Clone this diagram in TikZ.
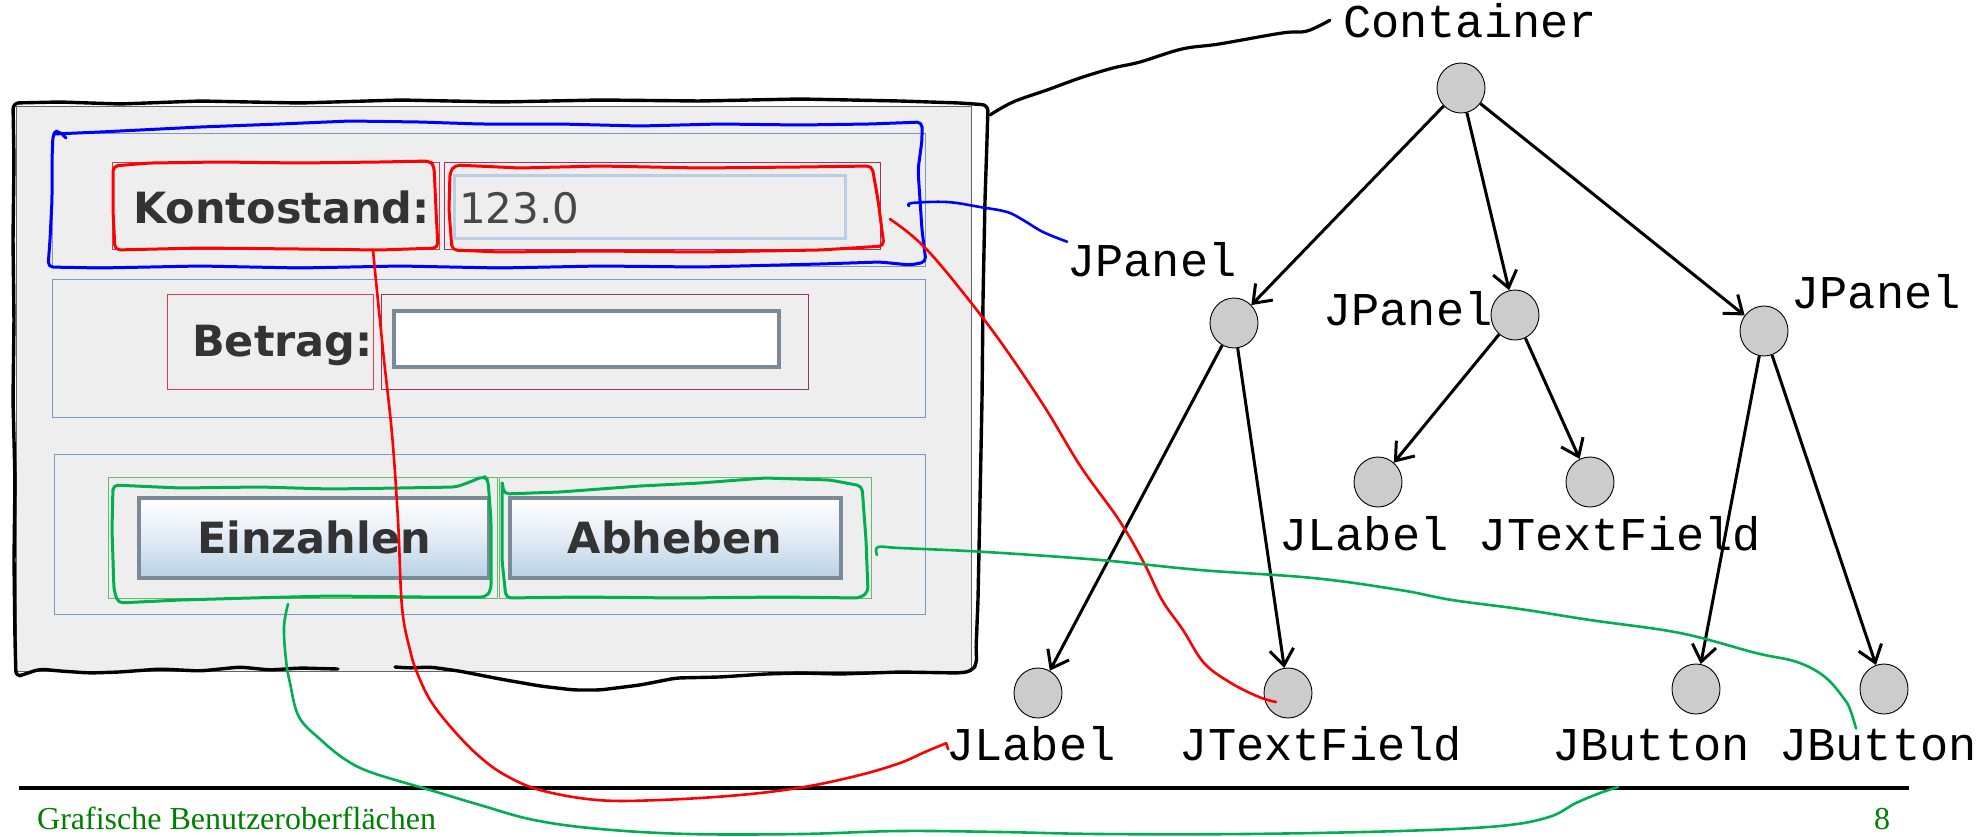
\documentclass[tikz,border=0pt]{standalone}
\usepackage{fontspec}
\setmainfont{Liberation Serif}
\newfontfamily\monof{Liberation Mono}
\newfontfamily\guif{DejaVu Sans}
\usetikzlibrary{arrows.meta,shapes.geometric}
\definecolor{guigray}{HTML}{EEEEEE}
\definecolor{winbord}{HTML}{666666}
\definecolor{panelb}{HTML}{7A9AC0}
\definecolor{labred}{HTML}{D04050}
\definecolor{fldpur}{HTML}{993366}
\definecolor{fldblue}{HTML}{B8CFE5}
\definecolor{btnbord}{HTML}{7A8A99}
\definecolor{cmpgreen}{HTML}{66BB66}
\definecolor{txtgray}{HTML}{333333}
\definecolor{penred}{HTML}{FF0000}
\definecolor{penblue}{HTML}{0000FF}
\definecolor{pengreen}{HTML}{00B050}
\definecolor{footgreen}{HTML}{008000}
\definecolor{nodegray}{HTML}{CCCCCC}
\begin{document}
\begin{tikzpicture}[x=1pt,y=-1pt,
  tnode/.style={ellipse,draw=black,line width=0.9pt,fill=nodegray,minimum width=48pt,minimum height=50pt,inner sep=0pt},
  tlabel/.style={font=\monof\fontsize{47}{47}\selectfont,inner sep=0pt,anchor=base},
  treearrow/.style={line width=3pt,-{Straight Barb[length=16pt,width=24pt]}},
  guitext/.style={font=\guif\bfseries\fontsize{43}{43}\selectfont,text=txtgray,inner sep=0pt},
  pen/.style={line width=2.6pt,line cap=round,line join=round},
  sketch/.style={pen,line width=3pt,rounded corners=5pt},
]
\useasboundingbox (0,0) rectangle (1982,836);
% ---------- GUI window ----------
\draw[winbord,fill=guigray,line width=0.8pt] (16,106) rectangle (971,671);
% panel 1
\draw[panelb,line width=1pt] (52,133) rectangle (925,266);
\draw[labred,line width=0.9pt] (112,162) rectangle (439,249);
\draw[fldpur,line width=0.9pt] (444,162) rectangle (880,249);
\draw[fldblue,line width=3pt,fill=guigray] (454,175) rectangle (845,238);
\node[guitext,anchor=base west] (kt) at (133,223) {Kontostand:};
\node[font=\guif\fontsize{42}{42}\selectfont,text=txtgray!90,inner sep=0pt,anchor=base west] (val) at (459,223) {123.0};
% panel 2
\draw[panelb,line width=1pt] (52,279) rectangle (925,417);
\draw[labred,line width=0.9pt] (167,294) rectangle (373,389);
\draw[fldpur,line width=0.9pt] (381,294) rectangle (808,389);
\draw[btnbord,line width=4pt,fill=white] (394,311) rectangle (779,367);
\node[guitext,anchor=base west] (bt) at (192,356) {Betrag:};
% panel 3
\draw[panelb,line width=1pt] (54,454) rectangle (925,614);
\draw[cmpgreen,line width=0.9pt] (108,477) rectangle (497,598);
\draw[cmpgreen,line width=0.9pt] (499,477) rectangle (871,598);
\draw[btnbord,line width=4pt,top color=white,bottom color=fldblue,middle color=white!60!fldblue] (139,498) rectangle (489,578);
\draw[btnbord,line width=4pt,top color=white,bottom color=fldblue,middle color=white!60!fldblue] (510,498) rectangle (841,578);
\node[guitext,anchor=base] (ein) at (314,553) {Einzahlen};
\node[guitext,anchor=base] (abh) at (675,553) {Abheben};
% ---------- hand-drawn window border ----------
\draw[pen,line width=3.4pt,rounded corners=6pt]
  (338,669) -- (300,668) -- (270,670) -- (240,667) -- (200,671) -- (160,669) -- (120,672) -- (90,673) -- (60,671) -- (40,669) -- (25,674) -- (16,677)
  -- (15,640) -- (14,560) -- (15,480) -- (13,400) -- (14,320) -- (13,240) -- (14,160) -- (13,103)
  -- (60,102) -- (120,104) -- (200,101) -- (300,103) -- (400,100) -- (500,102) -- (600,100) -- (700,101) -- (800,99) -- (900,101) -- (960,103) -- (988,105)
  -- (987,140) -- (985,200) -- (983,300) -- (982,400) -- (980,500) -- (978,600) -- (976,650) -- (977,663) -- (972,671) -- (960,673)
  -- (900,672) -- (840,674) -- (800,673) -- (765,674) -- (720,677) -- (676,678) -- (640,685) -- (600,690) -- (574,690) -- (540,686) -- (500,679) -- (459,671) -- (430,667) -- (410,668) -- (395,667);
% ---------- sketch boxes ----------
\draw[sketch,penblue] (54,134) -- (100,132) -- (200,127) -- (280,124) -- (350,121) -- (420,122) -- (480,124) -- (560,124) -- (640,126) -- (720,124) -- (800,125) -- (870,124) -- (922,122)
  -- (922,140) -- (918,170) -- (920,200) -- (922,230) -- (926,262) -- (910,265) -- (880,262) -- (820,264) -- (700,267) -- (600,266) -- (500,268) -- (400,266) -- (300,268) -- (200,266) -- (100,268) -- (48,267)
  -- (50,240) -- (52,200) -- (52,160) -- (53,134) -- (58,130) -- (66,138);
\draw[sketch,penred] (113,166) -- (150,163) -- (220,162) -- (300,163) -- (380,162) -- (430,161) -- (434,166) -- (436,210) -- (438,248) -- (380,250) -- (300,249) -- (200,248) -- (115,250) -- (113,210) -- cycle;
\draw[sketch,penred] (450,172) -- (455,165) -- (520,168) -- (600,166) -- (700,168) -- (800,167) -- (872,166) -- (878,200) -- (884,246) -- (820,250) -- (700,252) -- (600,251) -- (500,252) -- (452,250) -- (449,210) -- cycle;
\draw[sketch,pengreen] (113,485) -- (180,488) -- (260,487) -- (330,489) -- (400,488) -- (456,487) -- (470,482) -- (484,476) -- (488,480) -- (491,520) -- (491,590) -- (486,597) -- (420,597) -- (330,596) -- (250,598) -- (180,600) -- (118,603) -- (114,590) -- (112,530) -- cycle;
\draw[sketch,pengreen] (502,480) -- (504,494) -- (560,492) -- (640,486) -- (700,483) -- (765,478) -- (830,480) -- (862,486) -- (866,540) -- (868,592) -- (860,598) -- (780,597) -- (680,598) -- (580,597) -- (506,598) -- (502,560) -- cycle;
% ---------- tree ----------
\node[tnode] (root) at (1461,88) {};
\node[tnode] (p1) at (1234,323) {};
\node[tnode] (p2) at (1515,315) {};
\node[tnode] (p3) at (1764,331) {};
\node[tnode] (l2) at (1378,482) {};
\node[tnode] (t2) at (1590,482) {};
\node[tnode] (l1) at (1038,693) {};
\node[tnode] (t1) at (1288,693) {};
\node[tnode] (b1) at (1696,689) {};
\node[tnode] (b2) at (1884,689) {};
\draw[treearrow] (root) -- (p1);
\draw[treearrow] (root) -- (p2);
\draw[treearrow] (root) -- (p3);
\draw[treearrow] (p1) -- (l1);
\draw[treearrow] (p1) -- (t1);
\draw[treearrow] (p2) -- (l2);
\draw[treearrow] (p2) -- (t2);
\draw[treearrow] (p3) -- (b1);
\draw[treearrow] (p3) -- (b2);
\node[tlabel] (contlbl) at (1470,37) {Container};
\node[tlabel] (p1lbl) at (1152,276) {JPanel};
\node[tlabel] (p2lbl) at (1408,325) {JPanel};
\node[tlabel] (p3lbl) at (1876,308) {JPanel};
\node[tlabel] (l2lbl) at (1364,550) {JLabel};
\node[tlabel] (t2lbl) at (1620,550) {JTextField};
\node[tlabel] (l1lbl) at (1031,760) {JLabel};
\node[tlabel] (t1lbl) at (1321,760) {JTextField};
\node[tlabel] (b1lbl) at (1651,760) {JButton};
\node[tlabel] (b2lbl) at (1878,760) {JButton};
% ---------- footer ----------
\coordinate (fl) at (19,788);
\coordinate (fr) at (1909,788);
\draw[line width=3.4pt] (fl) -- (fr);
\node[font=\fontsize{32}{32}\selectfont,text=footgreen,inner sep=0pt,anchor=base west] (foot) at (37,829) {Grafische Benutzeroberflächen};
\node[font=\fontsize{32}{32}\selectfont,text=footgreen,inner sep=0pt,anchor=base] (pg) at (1882,829) {8};
% ---------- annotation connectors ----------
\coordinate (winc) at (990,115);
\coordinate (bluestart) at (909,206);
\coordinate (klbot) at (373,250);
\coordinate (tfR) at (890,219);
\coordinate (abR) at (877,555);
\coordinate (einB) at (288,604);
\coordinate (t1end) at ([shift={(-12,9)}]t1.center);
\coordinate (g2end) at ([shift={(-33,27)}]b1lbl.base);
\draw[pen,black,line width=3.2pt] plot[smooth,tension=0.6] coordinates {(winc) (1013,102) (1047,90) (1080,78) (1113,68) (1140,62) (1182,49) (1219,44) (1282,33) (1307,31) ([xshift=-13pt]contlbl.west)};
\draw[pen,penblue] plot[smooth,tension=0.6] coordinates {(bluestart) (912,203) (947,202) (980,207) (1007,212) (1023,220) (1043,232) (p1lbl.north west)};
\draw[pen,penred] plot[smooth,tension=0.6] coordinates {(klbot) (376,281) (384,360) (392,434) (398,520) (402,607) (410,650) (418,675) (432,703) (456,733) (480,757) (505,775) (540,790) (597,800) (660,800) (740,795) (804,787) (860,775) (900,763) (925,752) (l1lbl.west)} -- ++(2,6);
\draw[pen,penred] plot[smooth,tension=0.6] coordinates {(tfR) (910,234) (930,253) (961,290) (1000,341) (1044,406) (1081,467) (1119,520) (1144,563) (1162,600) (1183,630) (1204,663) (1231,683) (1259,697) (t1end)};
\draw[pen,pengreen] plot[smooth,tension=0.6] coordinates {(abR) (878,547) (900,548) (986,552) (1100,560) (1200,570) (1313,578) (1400,590) (1452,600) (1520,609) (1590,620) (1680,633) (1756,653) (1797,662) (1825,677) (1845,700) (1851,712) ([xshift=-22pt]b2lbl.north)};
\draw[pen,pengreen] plot[smooth,tension=0.6] coordinates {(einB) (284,627) (286,660) (290,683) (299,717) (321,740) (346,760) (373,773) (430,790) (480,805) (534,820) (600,829) (689,834) (800,834) (900,831) (1000,832) (1100,834) (1245,834) (1400,831) (1500,826) (1549,817) (1576,803) (1600,793) (g2end)};
\end{tikzpicture}
\end{document}
